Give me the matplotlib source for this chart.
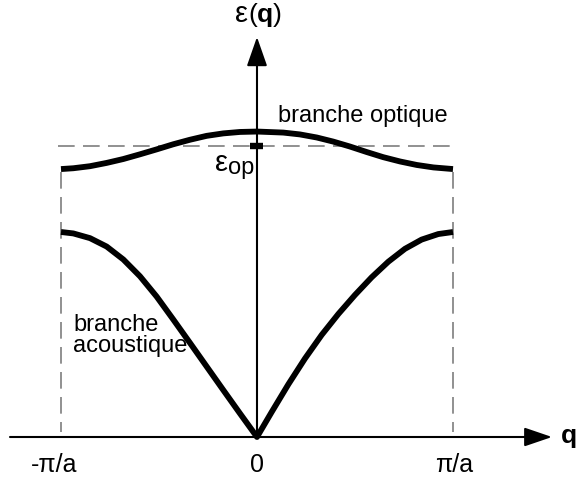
import matplotlib
matplotlib.use("Agg")
import matplotlib.pyplot as plt

plt.rcParams['font.family'] = ['Liberation Sans', 'DejaVu Sans']
plt.rcParams['mathtext.fontset'] = 'custom'
plt.rcParams['mathtext.rm'] = 'Liberation Sans'
plt.rcParams['mathtext.bf'] = 'Liberation Sans:bold'
plt.rcParams['lines.scale_dashes'] = False

# ---- data (q in units of pi/a, energy in arbitrary units) ----
q_acoustic = [-1.0, -0.937, -0.852, -0.767, -0.682, -0.597, -0.512, -0.427, -0.342,
              -0.257, -0.172, -0.087, 0.0, 0.075, 0.160, 0.245, 0.330, 0.415, 0.5,
              0.585, 0.670, 0.755, 0.840, 0.925, 1.0]
eps_acoustic = [1.0, 0.993, 0.970, 0.929, 0.866, 0.784, 0.685, 0.573, 0.459,
                0.344, 0.229, 0.115, 0.0, 0.122, 0.257, 0.383, 0.498, 0.600, 0.693,
                0.779, 0.855, 0.918, 0.963, 0.990, 1.0]

q_optical = [-1.0, -0.937, -0.852, -0.767, -0.682, -0.597, -0.512, -0.427, -0.342,
             -0.257, -0.172, -0.087, 0.0, 0.134, 0.219, 0.305, 0.389, 0.474, 0.560,
             0.644, 0.730, 0.815, 0.900, 1.0]
eps_optical = [1.307, 1.311, 1.321, 1.337, 1.356, 1.379, 1.403, 1.428, 1.450,
               1.469, 1.481, 1.488, 1.490, 1.485, 1.476, 1.461, 1.441, 1.417, 1.390,
               1.365, 1.344, 1.327, 1.315, 1.307]

eps_op = 1.420
zone_edges = [-1.0, 1.0]
tick_values = [-1.0, 0.0, 1.0]
tick_labels = ['-π/a', '0', 'π/a']

# ---- figure ----
fig = plt.figure(figsize=(5.77, 4.78), dpi=100)
ax = fig.add_axes([0, 0, 1, 1])
ax.set_xlim(-1.3112, 1.6327)
ax.set_ylim(-0.2, 2.1317)
ax.axis('off')

gray = '#888888'
dash = (12, 6)

# dashed guide lines
ax.plot([-1.015, 1.02], [eps_op, eps_op], color=gray, lw=1.3, dashes=dash, zorder=1)
for qe in zone_edges:
    ax.plot([qe, qe], [eps_optical[0] - 0.015, 0.024], color=gray, lw=1.3,
            dashes=dash, zorder=1)

# axes arrows
ax.annotate('', xy=(1.5051, 0), xytext=(-1.2602, 0),
            arrowprops=dict(arrowstyle='-|>,head_length=17,head_width=5.8',
                            mutation_scale=1, lw=1.5, color='black',
                            shrinkA=0, shrinkB=0), zorder=2)
ax.annotate('', xy=(0, 1.9512), xytext=(0, 0),
            arrowprops=dict(arrowstyle='-|>,head_length=18,head_width=6.3',
                            mutation_scale=1, lw=1.5, color='black',
                            shrinkA=0, shrinkB=0), zorder=2)

# branches
ax.plot(q_acoustic, eps_acoustic, color='black', lw=4.2,
        solid_joinstyle='round', solid_capstyle='butt', zorder=3)
ax.plot(q_optical, eps_optical, color='black', lw=4.2,
        solid_joinstyle='round', solid_capstyle='butt', zorder=3)

# eps_op tick mark
ax.plot([-0.034, 0.032], [eps_op, eps_op], color='black', lw=4.6,
        solid_capstyle='butt', zorder=4)

# texts
fs = 17
for v, lab in zip(tick_values, tick_labels):
    off = {-1.0: -0.035, 0.0: 0.0, 1.0: 0.008}[v]
    ax.text(v + off, -0.169, lab, ha='center', va='baseline', fontsize=18)

ax.text(1.551, -0.029, 'q', ha='left', va='baseline', fontsize=19, fontweight='bold')
ax.text(-0.045, 2.024, 'ε', ha='right', va='baseline', fontsize=21)
ax.text(-0.045, 2.024, '($\\mathbf{q}$)', ha='left', va='baseline', fontsize=19)

ax.text(0.107, 1.539, 'branche optique', ha='left', va='baseline', fontsize=fs)
ax.text(-0.937, 0.519, 'branche', ha='left', va='baseline', fontsize=fs)
ax.text(-0.937, 0.416, 'acoustique', ha='left', va='baseline', fontsize=fs)

ax.text(-0.150, 1.298, 'ε', ha='right', va='baseline', fontsize=21)
ax.text(-0.150, 1.281, 'op', ha='left', va='baseline', fontsize=fs)

fig.savefig('out.png', dpi=100)
